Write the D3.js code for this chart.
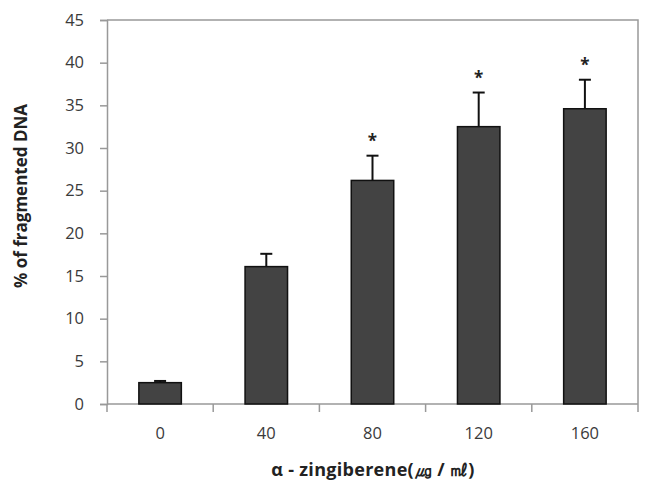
<!DOCTYPE html>
<html>
<head>
<meta charset="utf-8">
<script src="https://cdn.jsdelivr.net/npm/d3@7"></script>
<style>
  body { margin: 0; background: #fff; }
  text { font-family: "Open Sans", "DejaVu Sans", sans-serif; }
</style>
</head>
<body>
<div id="chart"></div>
<script>
// concentrations and measured values
var doses = ["0", "40", "80", "120", "160"];
var means = [2.5, 16.1, 26.2, 32.5, 34.6];
var errs = [0.2, 1.5, 2.9, 4.0, 3.4];
var signif = [false, false, true, true, true];
var yTicks = [0, 5, 10, 15, 20, 25, 30, 35, 40, 45];

var W = 654, H = 491;
var plotLeft = 107, plotRight = 638, plotTop = 20, plotBottom = 404;

var svg = d3.select("#chart")
    .append("svg")
    .attr("width", W)
    .attr("height", H);

var x = d3.scaleBand()
    .domain(doses)
    .range([plotLeft, plotRight])
    .paddingInner(0.6)
    .paddingOuter(0.3);

var y = d3.scaleLinear()
    .domain([0, 45])
    .range([plotBottom, plotTop]);

// frame (top and right)
svg.append("path")
    .attr("d", "M" + plotLeft + "," + plotTop + "H" + plotRight + "V" + plotBottom)
    .attr("fill", "none")
    .attr("stroke", "#999")
    .attr("stroke-width", 1.5);

// y axis
var yAxis = svg.append("g")
    .attr("transform", "translate(" + plotLeft + ",0)")
    .call(d3.axisLeft(y).tickValues(yTicks).tickSize(7).tickPadding(16));
yAxis.select(".domain").attr("stroke", "#999").attr("stroke-width", 1.5);
yAxis.selectAll(".tick line").attr("stroke", "#999").attr("stroke-width", 1.5);
yAxis.selectAll(".tick text")
    .attr("fill", "#3a3a3a")
    .style("font-size", "16.5px")
    .style("font-family", "'Open Sans', sans-serif");

// x axis: ticks between categories
var xAxis = svg.append("g")
    .attr("transform", "translate(0," + plotBottom + ")");
xAxis.append("line")
    .attr("x1", plotLeft).attr("x2", plotRight)
    .attr("stroke", "#999").attr("stroke-width", 1.5);
var step = x.step();
var bounds = d3.range(doses.length + 1).map(function (i) { return plotLeft + i * step; });
xAxis.selectAll(".xtick")
    .data(bounds)
    .enter().append("line")
    .attr("class", "xtick")
    .attr("x1", function (d) { return d; })
    .attr("x2", function (d) { return d; })
    .attr("y1", 0).attr("y2", 8)
    .attr("stroke", "#999").attr("stroke-width", 1.5);
xAxis.selectAll(".xlab")
    .data(doses)
    .enter().append("text")
    .attr("class", "xlab")
    .attr("x", function (d) { return x(d) + x.bandwidth() / 2; })
    .attr("y", 35)
    .attr("text-anchor", "middle")
    .attr("fill", "#3a3a3a")
    .style("font-size", "16.5px")
    .text(function (d) { return d; });

// error bars (upper only)
var eb = svg.selectAll(".err")
    .data(doses)
    .enter().append("g")
    .attr("class", "err");
eb.append("line")
    .attr("x1", function (d) { return x(d) + x.bandwidth() / 2; })
    .attr("x2", function (d) { return x(d) + x.bandwidth() / 2; })
    .attr("y1", function (d, i) { return y(means[i]); })
    .attr("y2", function (d, i) { return y(means[i] + errs[i]); })
    .attr("stroke", "#111").attr("stroke-width", 2);
eb.append("line")
    .attr("x1", function (d) { return x(d) + x.bandwidth() / 2 - 6; })
    .attr("x2", function (d) { return x(d) + x.bandwidth() / 2 + 6; })
    .attr("y1", function (d, i) { return y(means[i] + errs[i]); })
    .attr("y2", function (d, i) { return y(means[i] + errs[i]); })
    .attr("stroke", "#111").attr("stroke-width", 2);

// bars
svg.selectAll(".bar")
    .data(doses)
    .enter().append("rect")
    .attr("class", "bar")
    .attr("x", function (d) { return x(d); })
    .attr("width", x.bandwidth())
    .attr("y", function (d, i) { return y(means[i]); })
    .attr("height", function (d, i) { return plotBottom - y(means[i]); })
    .attr("fill", "#434343")
    .attr("stroke", "#111")
    .attr("stroke-width", 1.5);

// significance stars
svg.selectAll(".star")
    .data(doses.filter(function (d, i) { return signif[i]; }))
    .enter().append("text")
    .attr("class", "star")
    .attr("x", function (d) { return x(d) + x.bandwidth() / 2; })
    .attr("y", function (d) { var i = doses.indexOf(d); return y(means[i] + errs[i]) - 9; })
    .attr("text-anchor", "middle")
    .attr("fill", "#222")
    .style("font-size", "17px")
    .style("font-weight", "bold")
    .text("*");

// axis titles
svg.append("text")
    .attr("transform", "translate(27,196) rotate(-90)")
    .attr("text-anchor", "middle")
    .attr("fill", "#222")
    .style("font-size", "17px")
    .style("font-weight", "bold")
    .text("% of fragmented DNA");

svg.append("text")
    .attr("x", 373)
    .attr("y", 476)
    .attr("text-anchor", "middle")
    .attr("fill", "#222")
    .style("font-size", "18px")
    .style("font-weight", "bold")
    .style("letter-spacing", "0.3px")
    .text("α - zingiberene(㎍ / ㎖)");
</script>
</body>
</html>
